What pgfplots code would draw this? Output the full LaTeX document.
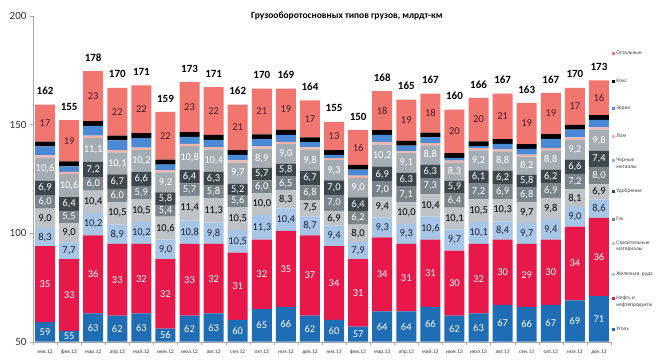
\documentclass[border=0pt]{standalone}
\usepackage{pgfplots}
\pgfplotsset{compat=1.18}
\usepackage{pgfplotstable}
\usepackage{fontspec}
\setmainfont{Carlito}
\definecolor{cCoal}{HTML}{1F6DB5}
\definecolor{cOil}{HTML}{E8184B}
\definecolor{cOre}{HTML}{A6C5E7}
\definecolor{cBuild}{HTML}{BEC3C7}
\definecolor{cGas}{HTML}{79848B}
\definecolor{cFert}{HTML}{3D474E}
\definecolor{cMetal}{HTML}{A4ADB3}
\definecolor{cScrap}{HTML}{F6B4A9}
\definecolor{cGrain}{HTML}{4A89D5}
\definecolor{cCoke}{HTML}{000000}
\definecolor{cOther}{HTML}{F1766F}
\definecolor{cAxis}{HTML}{A6A6A6}
\definecolor{cDark}{HTML}{1E2433}

\pgfplotstableread{
x coal oil ore build gas fert metal scrap grain coke other pad total
0  59 35 8.3 9.0 6.0 6.9 10.6 1.0 4.2 2.2 17 0.01 162
1  55 33 7.7 9.0 5.5 6.4 10.6 1.0 2.6 2.2 19 0.01 155
2  63 36 10.2 10.4 6.0 7.2 11.1 1.0 4.5 2.2 23 0.01 178
3  62 33 8.9 10.5 6.0 6.7 10.1 1.0 4.5 2.2 22 0.01 170
4  63 32 10.2 10.5 5.9 6.6 10.2 1.0 4.4 2.2 22 0.01 171
5  56 32 9.0 10.6 5.4 5.8 9.2 1.0 2.6 2.2 22 0.01 159
6  62 33 10.8 11.4 5.7 6.4 10.8 1.0 3.2 2.2 23 0.01 173
7  63 32 9.8 11.3 5.8 6.3 10.4 1.0 3.4 2.2 22 0.01 171
8  60 31 10.5 10.5 5.6 5.2 9.7 1.0 2.5 2.2 21 0.01 162
9  65 32 11.3 10.0 6.0 5.7 8.9 1.0 3.4 2.2 21 0.01 170
10 66 35 10.4 8.3 6.5 5.8 9.0 1.0 3.3 2.2 19 0.01 169
11 62 37 8.7 7.5 6.8 6.7 9.8 1.0 2.4 2.2 17 0.01 164
12 60 34 9.4 6.9 7.0 7.0 9.3 1.0 1.4 2.2 13 0.01 155
13 57 31 7.9 8.0 6.2 6.4 9.0 1.0 2.7 2.2 16 0.01 150
14 64 34 9.3 9.4 7.0 6.9 10.2 1.0 3.4 2.2 18 0.01 168
15 64 31 9.3 10.0 7.1 6.3 9.1 1.0 2.5 2.2 19 0.01 165
16 66 31 10.6 10.4 7.3 6.3 8.8 1.0 2.7 2.2 18 0.01 167
17 62 30 9.7 10.1 6.4 5.9 8.3 1.0 1.3 2.2 20 0.01 160
18 63 32 10.1 10.5 7.2 6.1 9.2 1.0 1.0 2.2 20 0.01 166
19 67 30 8.4 10.3 6.9 6.2 8.8 1.0 2.5 2.2 21 0.01 167
20 66 29 9.7 9.7 6.8 5.8 8.2 1.0 2.6 2.2 19 0.01 163
21 67 30 9.4 9.8 6.9 6.2 8.8 1.0 4.3 2.2 19 0.01 167
22 69 34 9.0 8.1 7.2 6.6 9.2 1.0 3.6 2.2 17 0.01 170
23 71 36 8.6 6.9 8.0 7.4 9.8 1.0 3.5 2.2 16 0.01 173
}\data

\pgfplotsset{
  lblA/.style={point meta=explicit, nodes near coords={\pgfmathprintnumber[fixed,fixed zerofill,precision=1,use comma,assume math mode=true]{\pgfplotspointmeta}}},
  lblI/.style={point meta=explicit, nodes near coords={\pgfmathprintnumber[fixed,precision=0,assume math mode=true]{\pgfplotspointmeta}}},
}

\begin{document}
\begin{tikzpicture}
\path[use as bounding box] (-33pt,-19.3pt) rectangle (635pt,341.7pt);
\begin{axis}[
  at={(0pt,0pt)}, anchor=south west,
  scale only axis, width=578pt, height=325.7pt,
  ybar stacked, bar width=20pt,
  ymin=50, ymax=200, ytick={50,100,150,200},
  xmin=-0.5, xmax=23.5,
  xtick={0,...,23},
  xticklabels={янв.12,фев.12,мар.12,апр.12,май.12,июн.12,июл.12,авг.12,сен.12,окт.12,ноя.12,дек.12,янв.13,фев.13,мар.13,апр.13,май.13,июн.13,июл.13,авг.13,сен.13,окт.13,ноя.13,дек.13},
  minor xtick={-0.5,0.5,...,23.5},
  major x tick style={draw=none},
  minor x tick style={cAxis},
  y tick style={cAxis},
  tick align=outside,
  major tick length=3pt, minor tick length=3pt,
  axis x line*=bottom, axis y line*=left,
  axis line style={cAxis,-},
  /pgf/number format/assume math mode=true,
  yticklabel style={font=\fontsize{11}{12}\selectfont, text=black!80},
  xticklabel style={font=\fontsize{5.5}{6}\selectfont, text=black!80, anchor=north, inner sep=0.5pt, text height=4.3pt, text depth=1.2pt, yshift=-4pt},
  every node near coord/.append style={font=\fontsize{10.5}{12}\selectfont, anchor=center},
  title={\textbf{Грузооборотосновных типов грузов, млрдт-км}},
  title style={at={(0.543,0.9816)}, anchor=center, font=\fontsize{9.5}{11}\selectfont},
  clip=false,
  reverse legend,
  legend cell align=left,
  legend image code/.code={\path (0pt,0pt) -- (4.2pt,0pt); \fill[#1,draw=none,overlay] (0pt,-0.3pt) rectangle (3pt,2.7pt);},
  legend style={at={(1.0017,0.894)}, anchor=north west, draw=none, fill=none, inner sep=0pt, row sep=0pt, column sep=0pt,
    font=\fontsize{5.5}{6.5}\selectfont, text=black!75,
    cells={anchor=base west},
    nodes={inner sep=0pt, text height=4pt, text depth=23.6pt}},
]
\addplot[fill=cCoal, draw=none, lblI, every node near coord/.append style={text=white, yshift=54.28pt}] table[x=x, y=coal, meta=coal] {\data};
\addlegendentry{Уголь}
\addplot[fill=cOil, draw=none, lblI, every node near coord/.append style={text=white}] table[x=x, y=oil, meta=oil] {\data};
\addlegendentry[text height=0.5pt, text depth=27.1pt]{\parbox[t]{60pt}{Нефть и\\нефтепродукты}}
\addplot[fill=cOre, draw=none, lblA, every node near coord/.append style={text=cDark}] table[x=x, y=ore, meta=ore] {\data};
\addlegendentry{Железная\ \ руда}
\addplot[fill=cBuild, draw=none, lblA, every node near coord/.append style={text=black}] table[x=x, y=build, meta=build] {\data};
\addlegendentry[text height=0.5pt, text depth=27.1pt]{\parbox[t]{60pt}{Строительные\\материалы}}
\addplot[fill=cGas, draw=none, lblA, every node near coord/.append style={text=white}] table[x=x, y=gas, meta=gas] {\data};
\addlegendentry{Газ}
\addplot[fill=cFert, draw=none, lblA, every node near coord/.append style={text=white}] table[x=x, y=fert, meta=fert] {\data};
\addlegendentry{Удобрения}
\addplot[fill=cMetal, draw=none, lblA, every node near coord/.append style={text=white}] table[x=x, y=metal, meta=metal] {\data};
\addlegendentry[text height=0.5pt, text depth=27.1pt]{\parbox[t]{60pt}{Черные\\металлы}}
\addplot[fill=cScrap, draw=none] table[x=x, y=scrap] {\data};
\addlegendentry{Лом}
\addplot[fill=cGrain, draw=none] table[x=x, y=grain] {\data};
\addlegendentry{Зерно}
\addplot[fill=cCoke, draw=none] table[x=x, y=coke] {\data};
\addlegendentry{Кокс}
\addplot[fill=cOther, draw=none, lblI, every node near coord/.append style={text=cDark!80!red}] table[x=x, y=other, meta=other] {\data};
\addlegendentry{Остальные}
\addplot[draw=none, fill=none, forget plot, lblI, every node near coord/.append style={text=black, font=\bfseries\fontsize{11}{12}\selectfont, anchor=center, yshift=13.5pt}] table[x=x, y=pad, meta=total] {\data};
\end{axis}
\end{tikzpicture}
\end{document}
